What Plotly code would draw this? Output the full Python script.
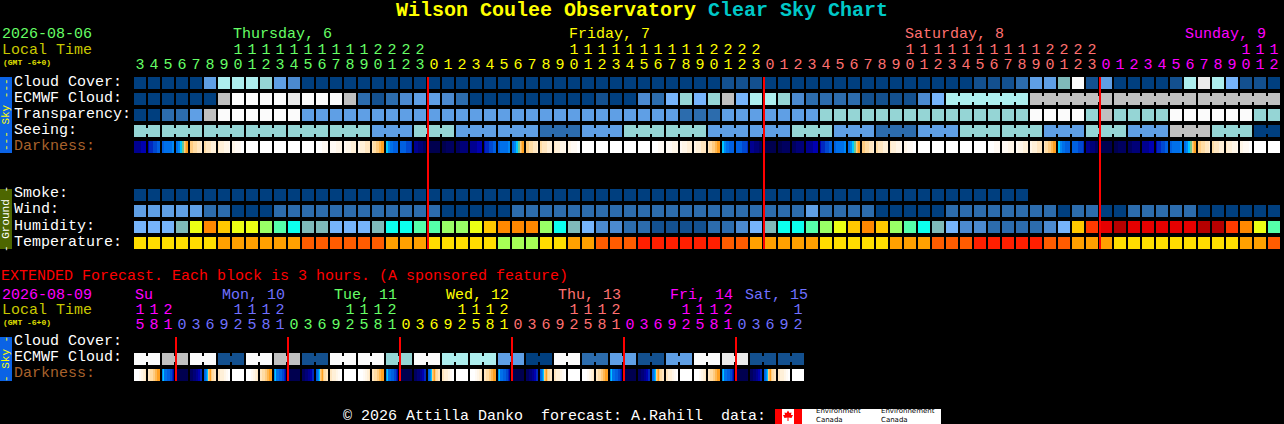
import plotly.graph_objects as go

W, H = 1284, 424
BG = "#000000"
MONO = "Liberation Mono"

# ---- colour codes used by the forecast rows ----
palette = {
    "a": "#003f7f", "b": "#13508f", "c": "#2c6cad", "d": "#4b8ad0", "e": "#5f9fe5", "f": "#76b4fb",
    "g": "#7fbaba", "h": "#95d5d5", "i": "#adeeee", "j": "#c0c0c0", "k": "#eaeaea", "l": "#fbfbfb",
    "Y": "#ecff14", "O": "#ff8800", "G": "#ffc800", "N": "#99ff66", "S": "#55ffaa", "C": "#0cffee",
    "R": "#ff3a00", "X": "#e60000", "D": "#b60000",
    "T": "#ffdd00", "A": "#ffa000", "H": "#ff5c00", "I": "#ff1f00", "L": "#a6ff55",
}
dark_palette = {
    "0": "#00004f", "1": "#000060", "2": "#000078", "3": "#000090", "4": "#0000b0", "5": "#0028c0",
    "6": "#0048d0", "7": "#0060e0", "8": "#0070ea", "9": "#0088f4", "c": "#00c8ff", "g": "#70c890",
    "o": "#ffa020", "p": "#ffb850", "q": "#ffcc80", "r": "#ffdca4", "s": "#ffe6c0", "t": "#fff0d8",
    "u": "#fff6e8", "v": "#fffaf4", "w": "#ffffff",
}

# ---- hourly forecast (82 columns) ----
hours = [3, 4, 5, 6, 7, 8, 9, 10, 11, 12, 13, 14, 15, 16, 17, 18, 19, 20, 21, 22, 23,
         0, 1, 2, 3, 4, 5, 6, 7, 8, 9, 10, 11, 12, 13, 14, 15, 16, 17, 18, 19, 20, 21, 22, 23,
         0, 1, 2, 3, 4, 5, 6, 7, 8, 9, 10, 11, 12, 13, 14, 15, 16, 17, 18, 19, 20, 21, 22, 23,
         0, 1, 2, 3, 4, 5, 6, 7, 8, 9, 10, 11, 12]
cloud_cover = "aaaaaeiiih edaaaaaaaa aaaaaaaaaa aaaaaaaaaa aabbbaaaaa aaaaaaaaaa bbbceeglbe aaaabikifb ba".replace(" ", "")
ecmwf_cloud = "aaaaaajlll lklllјcbcd eedcaaaaaa aaabaadcfh fhjfiihdcc ccbbbbdfii iiiijjjjjj jjjjjjjjjj jj".replace(" ", "").replace("\u0458", "j")
transparency = "aaccejllll lleeeeeeee eeeeeeeeee eeeeeeeeec cceeeeeeeh hhhhhhhhhh hhhhllllhj hhhhllllll hh".replace(" ", "")
seeing_blocks = "hhhhhhehee cehheehece hhehejha".replace(" ", "")
seeing_spans = [2] + [3] * 26 + [2]
smoke = "a" * 64
wind = "eeeeeccaaa cccccccccc ccaaaaaccc cccccccccc ccccccccec cccaaaaacc ccccccacca acccccaaaa aa".replace(" ", "")
humidity = "fffgYOGYYN SCggfffgCC SSNNYGOOON Cgfddccbbb bccdfgCCSN YGOGNSCgfd dccccdfGRX DXXXXXDDRO YS".replace(" ", "")
temperature = "TTTTTTAAAA AAHHHHHHAA ATTTTTLLLT TAAHHHIIII IIHHAAAAAT TTTTAAAHHH IIIIIHHAAA TTTTTTTTTA AH".replace(" ", "")
ecmwf_groups = [(58, 63), (64, 69), (70, 75), (76, 81)]

# one 12-step brightness strip per clock hour
darkness_by_hour = {
    0: "000000000000", 1: "000011111111", 2: "111122222222", 3: "333333344444",
    4: "455556666777", 5: "778888888899", 6: "8899ccggqpoo", 7: "qqqrrrrsssst",
    8: "rrsssssttttt", 9: "stttttuuuuuv", 10: "uuuvvvvvvwww", 11: "wwwwwwwwwwww",
    12: "wwwwwwwwwwww", 13: "wwwwwwwwwwww", 14: "wwwwwwwwwwww", 15: "wwwwwwwwwwww",
    16: "wwwwwwvvvvvv", 17: "vvvvvvuuuuuu", 18: "vvuuuuuttttt", 19: "uutttttsssss",
    20: "srrrqqqppooo", 21: "cc9988877777", 22: "777777666665", 23: "333322222111",
}

# ---- extended forecast (48 three-hour columns) ----
ext_hours = [15, 18, 21] + [0, 3, 6, 9, 12, 15, 18, 21] * 5 + [0, 3, 6, 9, 12]
ext_ecmwf_pairs = "ljlbljbl lhliieal cebelkbb".replace(" ", "")
ext_darkness_by_hour = {
    15: "wwwwwvvuutts", 18: "ssrrrqqppooo", 21: "9c8887776654", 0: "000000000000",
    3: "111222334455", 6: "789cqpoqrrss", 9: "ssttttuuvvww", 12: "wwwwwwwwwwww",
}

# ---- day labels ----
main_days = [("Thursday, 6", 233, "#66ff66"), ("Friday, 7", 569, "#ffff00"),
             ("Saturday, 8", 905, "#ff7070"), ("Sunday, 9", 1185, "#ff00ff")]
ext_days = [("Su", 135, "#ff00ff"), ("Mon, 10", 222, "#7070ff"), ("Tue, 11", 334, "#66ff66"),
            ("Wed, 12", 446, "#ffff00"), ("Thu, 13", 558, "#ff7070"), ("Fri, 14", 670, "#ff00ff"),
            ("Sat, 15", 745, "#7070ff")]
main_day_colours = ["#66ff66"] * 21 + ["#ffff00"] * 24 + ["#ff7070"] * 24 + ["#ff00ff"] * 13
ext_day_colours = (["#ff00ff"] * 3 + ["#7070ff"] * 8 + ["#66ff66"] * 8 + ["#ffff00"] * 8
                   + ["#ff7070"] * 8 + ["#ff00ff"] * 8 + ["#7070ff"] * 5)
main_midnights = [21, 45, 69]
ext_midnights = [3, 11, 19, 27, 35, 43]

# ---- geometry: one x unit is one 14 px column, y axis is in page pixels ----
PITCH = 14
X0 = 140
CELL = 12
fig = go.Figure()


def cells(codes, yc, start=0):
    n = len(codes)
    fig.add_trace(go.Bar(x=list(range(start, start + n)), y=[CELL] * n, base=[yc - CELL / 2] * n,
                         width=CELL / PITCH, marker=dict(color=[palette[c] for c in codes], line_width=0),
                         hoverinfo="skip", showlegend=False))


def links(col_code_pairs, yc):
    """Narrow joins between cells belonging to one forecast block."""
    if not col_code_pairs:
        return
    n = len(col_code_pairs)
    fig.add_trace(go.Bar(x=[c + 0.5 for c, _ in col_code_pairs], y=[6] * n, base=[yc - 3] * n,
                         width=4 / PITCH, marker=dict(color=[palette[k] for _, k in col_code_pairs], line_width=0),
                         hoverinfo="skip", showlegend=False))


def dark(strips, yc):
    xs, cols = [], []
    for c, s in enumerate(strips):
        for k, ch in enumerate(s):
            xs.append(c + (k - 5.5) / PITCH)
            cols.append(dark_palette[ch])
    n = len(xs)
    fig.add_trace(go.Bar(x=xs, y=[CELL] * n, base=[yc - CELL / 2] * n, width=1 / PITCH,
                         marker=dict(color=cols, line_width=0), hoverinfo="skip", showlegend=False))


def digits(cols, labels, colours, yc):
    fig.add_trace(go.Scatter(x=cols, y=[yc] * len(cols), text=labels, mode="text", textposition="middle center",
                             textfont=dict(family=MONO, size=15, color=colours), hoverinfo="skip", showlegend=False))


# main rows
cells(cloud_cover, 83)
cells(ecmwf_cloud, 99)
links([(c, ecmwf_cloud[c]) for a, b in ecmwf_groups for c in range(a, b)], 99)
cells(transparency, 115)
see, see_links, pos = [], [], 0
for code, span in zip(seeing_blocks, seeing_spans):
    see += [code] * span
    see_links += [(pos + j, code) for j in range(span - 1)]
    pos += span
cells(see, 131)
links(see_links, 131)
dark([darkness_by_hour[h] for h in hours], 147)
cells(smoke, 195)
cells(wind, 211)
cells(humidity, 227)
cells(temperature, 243)

# extended rows
ext_cols = [c for c in ext_ecmwf_pairs for _ in range(2)]
cells(ext_cols, 359)
links([(2 * i, c) for i, c in enumerate(ext_ecmwf_pairs)], 359)
dark([ext_darkness_by_hour[h] for h in ext_hours], 375)

# hour labels
digits(list(range(len(hours))), [str(h % 10) for h in hours], main_day_colours, 65)
tens = [i for i, h in enumerate(hours) if h >= 10]
digits(tens, [str(hours[i] // 10) for i in tens], [main_day_colours[i] for i in tens], 50)
digits(list(range(len(ext_hours))), [str(h % 10) for h in ext_hours], ext_day_colours, 325)
etens = [i for i, h in enumerate(ext_hours) if h >= 10]
digits(etens, [str(ext_hours[i] // 10) for i in etens], [ext_day_colours[i] for i in etens], 310)

# ---- layout helpers ----
ann = []


def label(text, x, y, color="#ffffff", size=15, bold=False, angle=0, anchor="left", family=MONO):
    if anchor == "left":
        x -= 1
    ann.append(dict(text=("<b>%s</b>" % text) if bold else text, x=x / W, y=1 - y / H, xref="paper", yref="paper",
                    xanchor=anchor, yanchor="middle", showarrow=False, borderpad=0, textangle=angle, align="left",
                    font=dict(family=family, size=size, color=color)))


SANS = "DejaVu Sans"
label("Wilson Coulee Observatory", 396, 11, "#ffff00", 20, True)
label("Clear Sky Chart", 708, 11, "#00c8c8", 20, True)
label("2026-08-06", 2, 35, "#66ff66")
label("Local Time", 2, 50, "#c8c800")
label("(GMT -6+0)", 3, 62, "#e0e000", 8, True)
for t, x, c in main_days:
    label(t, x, 35, c)
for t, y in [("Cloud Cover:", 82), ("ECMWF Cloud:", 98), ("Transparency:", 114), ("Seeing:", 130),
             ("Smoke:", 194), ("Wind:", 210), ("Humidity:", 226), ("Temperature:", 242),
             ("Cloud Cover:", 341), ("ECMWF Cloud:", 357)]:
    label(t, 14, y)
label("Darkness:", 14, 146, "#a8622c")
label("Darkness:", 14, 373, "#a8622c")
label("EXTENDED Forecast. Each block is 3 hours. (A sponsored feature)", 0.5, 276.5, "#ff0000")
label("2026-08-09", 2, 295, "#ff00ff")
label("Local Time", 2, 310, "#c8c800")
label("(GMT -6+0)", 3, 322, "#e0e000", 8, True)
for t, x, c in ext_days:
    label(t, x, 295, c)
label("--- Sky ---", 6, 115, "#ffff00", 11, angle=-90, anchor="center")
label("- Ground -", 6, 219, "#ffffff", 11, angle=-90, anchor="center")
label("- Sky -", 6, 359, "#ffff00", 11, angle=-90, anchor="center")
label("\u00a9 2026 Attilla Danko", 343, 416)
label("forecast: A.Rahill", 541, 416)
label("data:", 721, 416)
label("Environment<br>Canada", 816, 415, "#000000", 7, family=SANS)
label("Environnement<br>Canada", 881, 415, "#000000", 7, family=SANS)

shapes = []


def rect(x0, y0, x1, y1, color):
    shapes.append(dict(type="rect", xref="paper", yref="paper", x0=x0 / W, x1=x1 / W, y0=1 - y0 / H, y1=1 - y1 / H,
                       fillcolor=color, line_width=0, layer="above"))


rect(0, 77, 12, 153, "#0b63e5")
rect(0, 189, 12, 249, "#4d6600")
rect(0, 337, 12, 381, "#0b63e5")
rect(775, 409, 941, 424, "#ffffff")
rect(775, 409, 782, 424, "#ff0000")
rect(794, 409, 802, 424, "#ff0000")
leaf = [(788, 410.5), (789.5, 413), (791.5, 412.5), (791, 415), (793, 415), (791.5, 418), (788.5, 417.5), (788.5, 421),
        (787.5, 421), (787.5, 417.5), (784.5, 418), (783, 415), (785, 415), (784.5, 412.5), (786.5, 413)]
path = "M" + " L".join("%.5f,%.5f" % (px / W, 1 - py / H) for px, py in leaf) + " Z"
shapes.append(dict(type="path", xref="paper", yref="paper", path=path, fillcolor="#ff0000", line_width=0, layer="above"))

for col in main_midnights:
    xv = col - CELL / 2 / PITCH
    shapes.append(dict(type="line", xref="x", yref="y", x0=xv, x1=xv, y0=77, y1=249,
                       line=dict(color="#ff0000", width=2), layer="above"))
for col in ext_midnights:
    xv = col - CELL / 2 / PITCH
    shapes.append(dict(type="line", xref="x", yref="y", x0=xv, x1=xv, y0=337, y1=381,
                       line=dict(color="#ff0000", width=2), layer="above"))

fig.update_layout(
    width=W, height=H, margin=dict(l=0, r=0, t=0, b=0), paper_bgcolor=BG, plot_bgcolor=BG,
    barmode="overlay", bargap=0, showlegend=False, annotations=ann, shapes=shapes,
    xaxis=dict(visible=False, range=[-X0 / PITCH, (W - X0) / PITCH], fixedrange=True),
    yaxis=dict(visible=False, range=[H, 0], fixedrange=True),
)
fig.write_html("out.html", config={"displayModeBar": False},
               post_script="document.body.style.margin='0';document.body.style.background='#000';document.body.style.overflow='hidden';")
